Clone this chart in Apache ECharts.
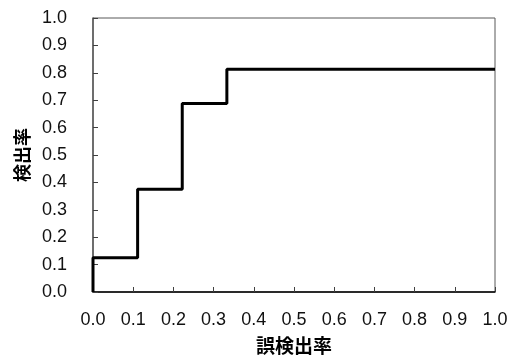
<!DOCTYPE html>
<html>
<head>
<meta charset="utf-8">
<script src="https://cdn.jsdelivr.net/npm/echarts@6/dist/echarts.min.js"></script>
<style>
  html, body { margin: 0; padding: 0; background: #fff; }
  #main { width: 511px; height: 360px; }
</style>
</head>
<body>
<div id="main"></div>
<script>
// 誤検出率 (x) と 検出率 (y) の階段状カーブ
const falseRates = [0, 0, 0.111, 0.222, 0.333, 1.0];
const detectRates = [0, 0.125, 0.375, 0.6875, 0.8125, 0.8125];
const xName = '誤検出率';
const yName = '検出率';

const points = falseRates.map(function (x, i) { return [x, detectRates[i]]; });
const labelFont = '"Liberation Sans", Arial, sans-serif';
const cjkFont = '"Noto Sans CJK JP", sans-serif';

const chart = echarts.init(document.getElementById('main'));
chart.setOption({
  animation: false,
  grid: {
    left: 93, right: 16, top: 18, bottom: 64,
    show: true, borderColor: '#595959', borderWidth: 1,
  },
  xAxis: {
    type: 'value', min: 0, max: 1, interval: 0.1,
    name: xName, nameLocation: 'middle', nameGap: 44,
    nameTextStyle: { fontFamily: cjkFont, fontWeight: 'bold', fontSize: 19, color: '#000' },
    axisLine: { lineStyle: { color: '#000', width: 1.5 } },
    axisTick: { inside: true, length: 5, lineStyle: { color: '#404040' } },
    axisLabel: {
      margin: 19, fontFamily: labelFont, fontSize: 18, color: '#111',
      formatter: function (v) { return v.toFixed(1); },
    },
    splitLine: { show: false },
  },
  yAxis: {
    type: 'value', min: 0, max: 1, interval: 0.1,
    name: yName, nameLocation: 'middle', nameGap: 62, nameRotate: 90,
    nameTextStyle: { fontFamily: cjkFont, fontWeight: 'bold', fontSize: 18, color: '#000' },
    axisLine: { show: true, lineStyle: { color: '#595959', width: 1.5 } },
    axisTick: { show: true, inside: true, length: 5, lineStyle: { color: '#404040' } },
    axisLabel: {
      margin: 26, fontFamily: labelFont, fontSize: 18, color: '#111',
      formatter: function (v) { return v.toFixed(1); },
    },
    splitLine: { show: false },
  },
  series: [{
    type: 'line',
    step: 'end',
    data: points,
    showSymbol: false,
    lineStyle: { color: '#000', width: 3 },
  }],
});
</script>
</body>
</html>
